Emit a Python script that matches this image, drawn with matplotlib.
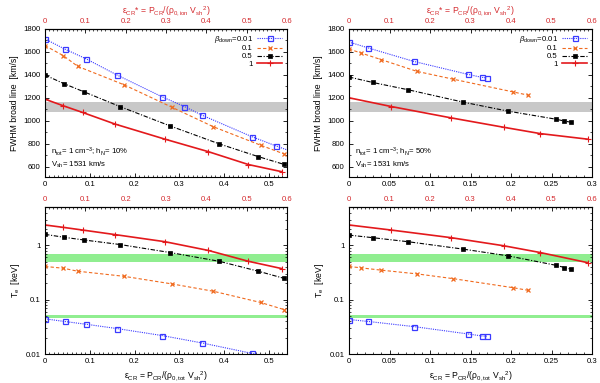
import matplotlib
matplotlib.use("Agg")
import matplotlib.pyplot as plt
from matplotlib.ticker import MultipleLocator, FuncFormatter, LogLocator, NullFormatter

plt.rcParams["font.family"] = ["Liberation Sans", "DejaVu Sans"]
plt.rcParams["mathtext.fontset"] = "custom"
plt.rcParams["mathtext.rm"] = "Liberation Sans"
plt.rcParams["mathtext.it"] = "Liberation Sans:italic"

# ---- data: h_N = 10% (left column), x = eps_CR ------------------------------
# last points of some series lie past the axis edge and are clipped, as in the original
l_x_blue = [0, 0.044, 0.091, 0.161, 0.261, 0.311, 0.350, 0.461, 0.515, 0.58]
l_fwhm_blue = [1713, 1625, 1541, 1398, 1209, 1124, 1049, 862, 781, 690]
l_x_orange = [0, 0.041, 0.073, 0.176, 0.284, 0.376, 0.481, 0.533]
l_fwhm_orange = [1655, 1567, 1474, 1314, 1116, 947, 787, 711]
l_x_black = [0, 0.043, 0.087, 0.167, 0.279, 0.389, 0.476, 0.533]
l_fwhm_black = [1398, 1322, 1252, 1124, 955, 798, 687, 620]
l_x_red = [0, 0.041, 0.084, 0.157, 0.268, 0.364, 0.454, 0.528]
l_fwhm_red = [1188, 1130, 1072, 970, 839, 731, 618, 556]

l_xt_blue = [0, 0.044, 0.091, 0.161, 0.261, 0.350, 0.461, 0.54]
l_te_blue = [0.0445, 0.0397, 0.0354, 0.0294, 0.0219, 0.0160, 0.0103, 0.0076]
l_te_orange = [0.41, 0.38, 0.335, 0.27, 0.195, 0.143, 0.089, 0.066]
l_te_black = [1.60, 1.41, 1.26, 1.04, 0.74, 0.51, 0.335, 0.248]
l_te_red = [2.38, 2.15, 1.92, 1.58, 1.17, 0.81, 0.51, 0.375]

# ---- data: h_N = 50% (right column) -----------------------------------------
r_x_blue = [0, 0.024, 0.080, 0.147, 0.164, 0.170]
r_fwhm_blue = [1686, 1634, 1517, 1404, 1378, 1375]
r_x_orange = [0, 0.015, 0.040, 0.084, 0.128, 0.202, 0.221]
r_fwhm_orange = [1625, 1590, 1532, 1430, 1363, 1252, 1223]
r_x_black = [0, 0.029, 0.073, 0.141, 0.196, 0.255, 0.266, 0.274]
r_fwhm_black = [1381, 1334, 1270, 1162, 1084, 1014, 997, 987]
r_x_red = [0, 0.052, 0.126, 0.191, 0.236, 0.295]
r_fwhm_red = [1200, 1124, 1025, 943, 888, 839]

r_te_blue = [0.0432, 0.0397, 0.0320, 0.0234, 0.0215, 0.0213]
r_te_orange = [0.41, 0.386, 0.35, 0.299, 0.245, 0.167, 0.149]
r_te_black = [1.55, 1.39, 1.17, 0.855, 0.644, 0.432, 0.392, 0.365]
r_te_red = [2.38, 1.92, 1.39, 0.986, 0.74, 0.48]

beta_labels = [r"$\beta_{\rm down}$=0.01", "0.1", "0.5", "1"]
fwhm_band = (1080, 1160)
te_band_hi = (0.5, 0.7)
te_band_lo = (0.047, 0.052)

BLUE = "#3a3aff"
ORANGE = "#f06a1e"
BLACK = "#000000"
RED = "#e3191c"
TOPRED = "#d42a2e"

STYLES = [
    dict(color=BLUE, ls=(0, (1, 1)), lw=0.8, marker="s", ms=3.6, mfc="none", mew=0.9),
    dict(color=ORANGE, ls=(0, (3, 2)), lw=0.8, marker="x", ms=3.2, mew=0.9),
    dict(color=BLACK, ls=(0, (4, 1.5, 1, 1.5)), lw=0.8, marker="s", ms=2.6, mew=0.5),
    dict(color=RED, ls="-", lw=1.2, marker="+", ms=3.8, mew=0.8),
]

FS = 5.6
fmt = FuncFormatter(lambda v, p: f"{v:g}")


def style_axis(ax, xmax, xmajor, xminor, ratio, top_label=None):
    ax.set_xlim(0, xmax)
    ax.xaxis.set_major_locator(MultipleLocator(xmajor))
    ax.xaxis.set_minor_locator(MultipleLocator(xminor))
    ax.xaxis.set_major_formatter(fmt)
    ax.tick_params(which="both", direction="in", top=False, right=True, labelsize=FS, pad=3)
    ax.tick_params(which="major", length=3, width=0.6)
    ax.tick_params(which="minor", length=1.5, width=0.5)
    for s in ax.spines.values():
        s.set_linewidth(0.8)
    sec = ax.secondary_xaxis("top", functions=(lambda x: x / ratio, lambda x: x * ratio))
    sec.xaxis.set_major_locator(MultipleLocator(0.1))
    sec.xaxis.set_minor_locator(MultipleLocator(0.01))
    sec.xaxis.set_major_formatter(fmt)
    sec.tick_params(which="both", direction="in", labelsize=FS, labelcolor=TOPRED, pad=3)
    sec.tick_params(which="major", length=3, width=0.6)
    sec.tick_params(which="minor", length=1.5, width=0.5)
    if top_label:
        sec.set_xlabel(top_label, color=TOPRED, fontsize=6.2, labelpad=3)
    return sec


def fwhm_panel(ax, xs, ys, xmax, xmajor, ratio, hn):
    ax.axhspan(*fwhm_band, color="#c8c8c8", lw=0, zorder=0)
    for x, y, st, lab in zip(xs, ys, STYLES, beta_labels):
        ax.plot(x, y, label=lab, clip_on=True, **st)
    ax.set_ylim(510, 1800)
    ax.yaxis.set_major_locator(MultipleLocator(200))
    ax.yaxis.set_minor_locator(MultipleLocator(100))
    ax.set_ylabel("FWHM broad line  [km/s]", fontsize=6.2, labelpad=3)
    style_axis(ax, xmax, xmajor, 0.01, ratio,
               top_label=r"ε$_{\rm CR}$* = P$_{\rm CR}$/(ρ$_{\rm 0,ion}$ V$_{\rm sh}{}^{2}$)")
    ax.legend(loc="upper right", frameon=False, markerfirst=False, fontsize=FS,
              handlelength=3.2, handletextpad=0.6, labelspacing=0.05,
              borderaxespad=0.3, borderpad=0.3)
    ax.text(0.025, 0.15, r"n$_{\rm tot}$= 1 cm$^{-3}$; h$_{\rm N}$= " + hn,
            transform=ax.transAxes, fontsize=FS)
    ax.text(0.025, 0.07, r"V$_{\rm sh}$= 1531 km/s", transform=ax.transAxes, fontsize=FS)


def te_panel(ax, xs, ys, xmax, xmajor, ratio):
    ax.axhspan(*te_band_hi, color="#90ee90", lw=0, zorder=0)
    ax.axhspan(*te_band_lo, color="#90ee90", lw=0, zorder=0)
    for x, y, st in zip(xs, ys, STYLES):
        ax.plot(x, y, **st)
    ax.set_yscale("log")
    ax.set_ylim(0.01, 5.1)
    ax.yaxis.set_major_locator(LogLocator(base=10))
    ax.yaxis.set_major_formatter(fmt)
    ax.yaxis.set_minor_locator(LogLocator(base=10, subs=range(2, 10)))
    ax.yaxis.set_minor_formatter(NullFormatter())
    ax.set_ylabel(r"T$_{\rm e}$  [keV]", fontsize=6.2, labelpad=3)
    ax.set_xlabel(r"ε$_{\rm CR}$ = P$_{\rm CR}$/(ρ$_{\rm 0,tot}$ V$_{\rm sh}{}^{2}$)",
                  fontsize=6.2, labelpad=3)
    style_axis(ax, xmax, xmajor, 0.01, ratio)


fig = plt.figure(figsize=(6.0, 3.83), dpi=100)
ax_tl = fig.add_axes([0.075, 0.538, 0.4033, 0.3864])
ax_tr = fig.add_axes([0.5817, 0.538, 0.405, 0.3864])
ax_bl = fig.add_axes([0.075, 0.0757, 0.4033, 0.3838])
ax_br = fig.add_axes([0.5817, 0.0757, 0.405, 0.3838])

fwhm_panel(ax_tl, [l_x_blue, l_x_orange, l_x_black, l_x_red],
           [l_fwhm_blue, l_fwhm_orange, l_fwhm_black, l_fwhm_red], 0.54, 0.1, 0.9, "10%")
fwhm_panel(ax_tr, [r_x_blue, r_x_orange, r_x_black, r_x_red],
           [r_fwhm_blue, r_fwhm_orange, r_fwhm_black, r_fwhm_red], 0.30, 0.05, 0.5, "50%")
te_panel(ax_bl, [l_xt_blue, l_x_orange, l_x_black, l_x_red],
         [l_te_blue, l_te_orange, l_te_black, l_te_red], 0.54, 0.1, 0.9)
te_panel(ax_br, [r_x_blue, r_x_orange, r_x_black, r_x_red],
         [r_te_blue, r_te_orange, r_te_black, r_te_red], 0.30, 0.05, 0.5)

fig.savefig("out.png", dpi=100)
